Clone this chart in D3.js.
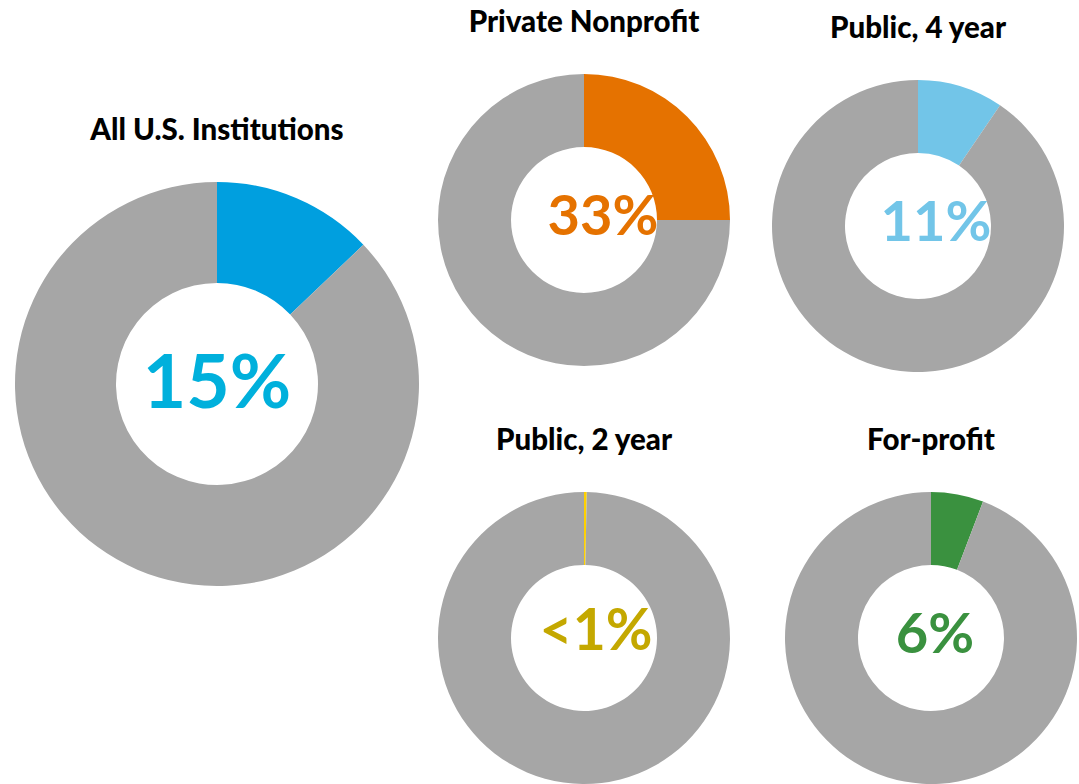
<!DOCTYPE html>
<html>
<head>
<meta charset="utf-8">
<script src="https://cdn.jsdelivr.net/npm/d3@7"></script>
<style>
  html, body { margin: 0; padding: 0; background: #fff; }
  svg { display: block; }
  .title { font-family: Lato, "Open Sans", sans-serif; font-weight: 900; fill: #000; }
  .pct { font-family: Lato, "Open Sans", sans-serif; font-weight: bold; }
</style>
</head>
<body>
<svg id="chart" width="1079" height="784"></svg>
<script>
// data
var categories = ['All U.S. Institutions', 'Private Nonprofit', 'Public, 4 year', 'Public, 2 year', 'For-profit'];
var sliceShares = [0.129, 0.25, 0.095, 0.003, 0.058];   // share drawn as the coloured slice
var pctLabels = ['15%', '33%', '11%', '<1%', '6%'];

// styles
var sliceColors = ['#009fdf', '#e57200', '#72c5e8', '#ffd100', '#3a913f'];
var labelColors = ['#00b0dc', '#e57200', '#72c5e8', '#c4a800', '#3a913f'];
var restColor = '#a6a6a6';

// layout of each panel
var panels = [
  { cx: 217, cy: 384, r: 202, titleY: 140, lx: 217, ly: 408, lsize: 75 },
  { cx: 584, cy: 220, r: 146, titleY: 32, lx: 603, ly: 235, lsize: 56 },
  { cx: 918, cy: 226, r: 146, titleY: 38, lx: 936, ly: 241, lsize: 56 },
  { cx: 584, cy: 638, r: 146, titleY: 450, lx: 596, ly: 650, lsize: 57 },
  { cx: 931, cy: 638, r: 146, titleY: 450, lx: 935, ly: 653, lsize: 56 }
];
var titleSize = 29.5;

var svg = d3.select('#chart');

var pie = d3.pie().sort(null).value(function(d) { return d; });

categories.forEach(function(name, i) {
  var p = panels[i];
  var arc = d3.arc().innerRadius(p.r * 0.5).outerRadius(p.r);
  var g = svg.append('g').attr('transform', 'translate(' + [p.cx, p.cy] + ')');

  g.selectAll('path')
    .data(pie([sliceShares[i], 1 - sliceShares[i]]))
    .enter().append('path')
    .attr('d', arc)
    .attr('fill', function(d, j) { return j === 0 ? sliceColors[i] : restColor; });

  svg.append('text')
    .attr('class', 'title')
    .attr('x', p.cx)
    .attr('y', p.titleY)
    .attr('text-anchor', 'middle')
    .style('font-size', titleSize + 'px')
    .text(name);

  svg.append('text')
    .attr('class', 'pct')
    .attr('x', p.lx)
    .attr('y', p.ly)
    .attr('text-anchor', 'middle')
    .style('font-size', p.lsize + 'px')
    .attr('fill', labelColors[i])
    .text(pctLabels[i]);
});
</script>
</body>
</html>
